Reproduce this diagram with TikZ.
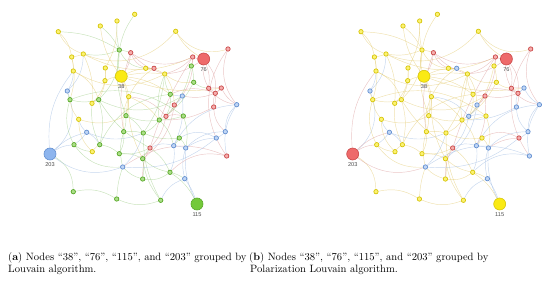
\documentclass[tikz,border=0pt]{standalone}
\usepackage{fontspec}
\newfontfamily\lblfont{Liberation Sans}
\definecolor{cY}{HTML}{FAEA14}
\definecolor{cG}{HTML}{74C93A}
\definecolor{cR}{HTML}{EE6A6A}
\definecolor{cB}{HTML}{8DB5EE}
\definecolor{dY}{HTML}{D6C50A}
\definecolor{dG}{HTML}{58A828}
\definecolor{dR}{HTML}{C94848}
\definecolor{dB}{HTML}{6490D0}
\colorlet{sY}{cY!60!white}
\colorlet{sG}{cG!60!white}
\colorlet{sR}{cR!55!white}
\colorlet{sB}{cB!55!white}
\definecolor{eY}{HTML}{E2C86A}
\definecolor{eG}{HTML}{9ACB80}
\definecolor{eR}{HTML}{DA9898}
\definecolor{eB}{HTML}{98B6E0}
\pgfdeclarelayer{edges}
\pgfsetlayers{edges,main}
\tikzset{
  dot/.style={circle, inner sep=0pt, minimum size=4.4pt, line width=0.7pt},
  bigdot/.style={circle, inner sep=0pt, minimum size=12pt, line width=0.6pt},
  edge/.style={line width=0.45pt, draw opacity=0.55},
  lbl/.style={font=\lblfont\fontsize{5.6}{6}\selectfont, text=black!70, inner sep=0pt, anchor=north},
  captext/.style={font=\fontsize{10.6}{12.5}\selectfont, inner sep=0pt, anchor=base west},
}
\def\nodelist{%
y1/58.3/31.7/Y/Y/S, y2/100.3/26/Y/Y/S, y3/117/21/Y/Y/S, y4/134.7/14.3/Y/Y/S, y5/175.7/31.3/Y/Y/S, y6/83.3/54/Y/Y/S, y7/71.7/57/Y/Y/S, y8/73.3/71/Y/Y/S, y9/105.3/68/Y/Y/S, y10/105/80.7/Y/Y/S, y11/145.7/68.3/Y/Y/S, y12/164.7/74/Y/Y/S, y13/128.7/96.7/Y/Y/S, y14/92/103.3/Y/Y/S, y15/78.7/119.3/Y/Y/S, y16/92.3/151.7/Y/Y/S,
g1/119.3/50/G/Y/S, g2/191.3/66/G/Y/S, g3/193.7/82.3/G/Y/S, g4/70/99.7/G/Y/S, g5/98.7/99.7/G/Y/S, g6/170.3/94.3/G/Y/S, g7/126/115.7/G/Y/S, g8/183.3/116/G/Y/S, g9/159.3/120/G/Y/S, g10/123.7/131.7/G/Y/S, g11/143.3/133/G/Y/S, g12/179.3/138/G/Y/S, g13/74/144.7/G/Y/S, g14/99.7/144.7/G/Y/S, g15/119.3/153.7/G/Y/S, g16/142.7/158.7/G/Y/S, g17/170/172.3/G/Y/S, g18/142.7/179/G/Y/S, g19/73.3/191.7/G/Y/S, g20/116.7/199/G/Y/S, g21/160.7/200.3/G/Y/S,
r1/130.7/52.7/R/R/S, r2/154/68.3/R/B/S, r3/192.7/57/R/R/S, r4/228/49/R/R/S, r5/208.7/88.3/R/R/S, r6/221.3/88/R/B/S, r7/215.3/93.3/R/R/S, r8/213.7/107/R/B/S, r9/174.3/105/R/B/S, r10/166/116.3/R/B/S, r11/150/148/R/R/S, r12/226.7/156/R/B/S,
b1/67.3/91/B/B/S, b2/182.3/96/B/R/S, b3/236.7/104.7/B/B/S, b4/86.7/132.3/B/B/S, b5/225.3/131.7/B/B/S, b6/216.3/138/B/R/S, b7/173.7/145.7/B/B/S, b8/185.7/148/B/B/S, b9/122.7/167/B/B/S, b10/184.7/178.7/B/B/S,
h38/121.3/76.3/Y/Y/L, h76/203.7/59/R/R/L, h115/197/204/G/Y/L, h203/50/154/B/R/L}
\def\edgelist{%
g1/y1/-10, g1/y2/-8, g1/y3/5, g1/y4/8, g1/y6/10, g1/h38/-10, g1/r1/0, g1/g5/15, g1/g7/-10, g1/y11/-20,
y1/y6/-15, y1/y7/12, y2/h38/-10, y3/y9/10, y6/y7/0, y6/y5/-25, y6/r3/-18, y6/y14/10, y7/y8/5, y7/g4/10,
b1/h203/25, r1/h38/10, r1/y11/-15, r1/g10/-10, r1/r3/-20, r1/y12/-10, y5/r4/-25, y5/h76/-10, r4/b3/-20, r4/r12/-25,
h76/r3/0, h76/r5/10, h76/r7/15, h76/y12/10, h76/b3/-30, r3/g2/5, r3/y12/10, r3/r9/15, g2/g3/0, g2/r10/10,
g3/r5/-10, g3/g9/10, r5/r6/0, r5/r7/0, r6/r7/0, r6/r8/-20, r7/r8/10, r7/g6/-15, r7/b2/10, r8/b5/-15,
r8/g9/10, r6/b3/-10, b3/b5/-15, b3/b7/-20, b3/r12/-15, b5/b6/10, b5/b8/-15, b6/b8/-10, b6/g12/-20, r12/g17/-20,
r12/b9/-20, b2/g6/0, b2/r9/10, b2/b7/10, g6/y12/10, g6/r10/10, g6/g14/-20, r9/r10/10, r9/g16/15, r10/g8/10,
r10/y13/-15, r10/r11/10, g8/g9/5, g8/b8/10, g8/g4/-20, g9/g11/10, g9/y12/10, g9/b7/10, g12/b7/0, g12/b8/10,
g12/g11/10, b7/b8/0, b7/g17/10, b8/b10/-10, b8/h115/-10, b7/r11/-15, g17/h115/10, g17/b10/0, g17/g16/10, g17/r11/-10,
g17/g18/15, b10/h115/0, b10/g21/-15, g21/g16/10, g21/g11/10, g20/b9/5, g20/g19/-15, g20/g21/-15, g19/h203/-20, h203/g13/10,
h203/b4/10, h203/b9/-20, h203/y8/15, b4/g13/0, b4/y15/10, b4/g14/10, b4/g11/-15, g13/g4/15, g13/b9/-20, g13/y16/-10, y16/y15/15,
y16/g14/10, g14/y14/10, g14/g15/10, y15/g4/10, y15/g7/-15, g4/b1/0, g4/g5/-10, b1/y8/-10, b1/y6/-15, y8/g5/15,
y8/y12/-20, y9/g5/10, y9/y10/0, y10/h38/0, y10/y14/10, y14/g5/0, g5/g14/10, g5/r11/-10, g5/b2/-20, h38/y13/0,
h38/y11/0, h38/y12/0, h38/r6/-10, h38/g7/10, h38/g6/10, y13/g7/0, y13/g9/10, y13/r2/10, y13/g10/-10, y13/g16/-10,
g7/g10/0, g7/g11/10, g7/g9/-10, g10/g15/10, g10/g11/0, g10/b9/-10, g15/g16/10, g15/r11/-10, g16/r11/0, g16/g18/0,
r11/g18/-10, r11/r3/5, g18/b9/10, b9/g11/-10, b9/b6/-15, g11/y12/-10, y11/r2/0, y11/y12/10, y12/r9/10, y12/g3/-15}
\newcommand\drawpanel[3]{%
  \foreach \n/\x/\y/\ca/\cb/\sz in \nodelist {%
    \if a#3\edef\cc{\ca}\else\edef\cc{\cb}\fi
    \expandafter\xdef\csname col#1\n\endcsname{\cc}%
    \edef\fc{s\cc}\edef\bc{c\cc}\edef\dc{d\cc}%
    \if L\sz
      \node[bigdot, fill=\bc, draw=\dc] (#1\n) at (\x+#2,\y) {};
    \else
      \node[dot, fill=\fc, draw=\dc] (#1\n) at (\x+#2,\y) {};
    \fi
  }
  \begin{pgfonlayer}{edges}
  \foreach \s/\t/\b in \edgelist {%
    \edef\ec{e\csname col#1\s\endcsname}%
    \pgfmathsetmacro\bb{\b==0 ? 8 : 1.4*\b}%
    \draw[edge, draw=\ec] (#1\s) to[bend left=\bb] (#1\t);
  }
  \end{pgfonlayer}
  \node[lbl] (#1l38) at ([yshift=-2pt]#1h38.south) {38};
  \node[lbl] (#1l76) at ([yshift=-2pt]#1h76.south) {76};
  \node[lbl] (#1l115) at ([yshift=-2pt]#1h115.south) {115};
  \node[lbl] (#1l203) at ([yshift=-2pt]#1h203.south) {203};
}
\begin{document}
\begin{tikzpicture}[x=1pt, y=-1pt]
  \useasboundingbox (0,0) rectangle (550,283);
  \drawpanel{a}{0}{a}
  \drawpanel{b}{302.7}{b}
  \node[captext] (capa1) at (8,260.5) {(\textbf{a}) Nodes “38”, “76”, “115”, and “203” grouped by};
  \node[captext] (capa2) at (8,272.5) {Louvain algorithm.};
  \node[captext] (capb1) at (249,260.5) {(\textbf{b}) Nodes “38”, “76”, “115”, and “203” grouped by};
  \node[captext] (capb2) at (250,272.5) {Polarization Louvain algorithm.};
\end{tikzpicture}
\end{document}
